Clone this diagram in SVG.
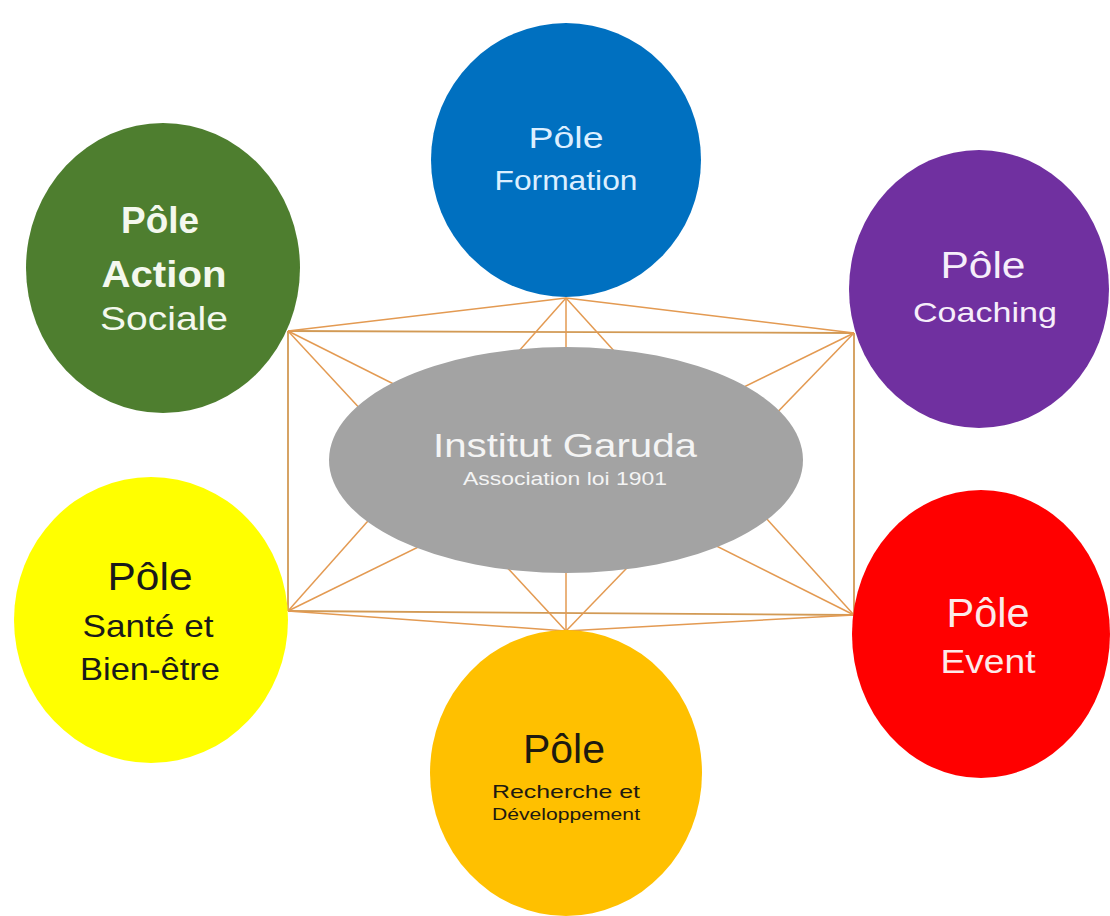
<svg xmlns="http://www.w3.org/2000/svg" width="1110" height="916" viewBox="0 0 1110 916">
<style>
  .t { font-family: "Liberation Sans", "DejaVu Sans", Arial, sans-serif; text-anchor: middle; }
  .ln { stroke: #E39A52; stroke-width: 1.5; fill: none; }
  .frame { stroke: #D29A55; stroke-width: 1.8; fill: none; }
</style>
<rect width="1110" height="916" fill="#FFFFFF"/>
<g id="connectors">
  <line class="frame" x1="288" y1="331" x2="854" y2="333"/>
  <line class="frame" x1="288" y1="611" x2="854" y2="615"/>
  <line class="frame" x1="288" y1="331" x2="288" y2="611"/>
  <line class="frame" x1="854" y1="333" x2="854" y2="615"/>
  <line class="ln" x1="566" y1="298" x2="288" y2="331"/>
  <line class="ln" x1="566" y1="298" x2="854" y2="333"/>
  <line class="ln" x1="566" y1="631" x2="288" y2="611"/>
  <line class="ln" x1="566" y1="631" x2="854" y2="615"/>
  <line class="ln" x1="566" y1="298" x2="566" y2="631"/>
  <line class="ln" x1="566" y1="298" x2="288" y2="611"/>
  <line class="ln" x1="566" y1="298" x2="854" y2="615"/>
  <line class="ln" x1="566" y1="631" x2="288" y2="331"/>
  <line class="ln" x1="566" y1="631" x2="854" y2="333"/>
  <line class="ln" x1="288" y1="331" x2="854" y2="615"/>
  <line class="ln" x1="854" y1="333" x2="288" y2="611"/>
</g>
<g id="institut-garuda">
  <ellipse cx="566" cy="460" rx="237" ry="113" fill="#A3A3A3"/>
  <text class="t" x="565" y="457" font-size="34" fill="#F4F4F4" textLength="264" lengthAdjust="spacingAndGlyphs">Institut Garuda</text>
  <text class="t" x="565" y="485" font-size="19" fill="#F4F4F4" textLength="204" lengthAdjust="spacingAndGlyphs">Association loi 1901</text>
</g>
<g id="pole-formation">
  <ellipse cx="566" cy="160" rx="135" ry="137" fill="#0070C0"/>
  <text class="t" x="566" y="148" font-size="30" fill="#DCEFFF" textLength="75" lengthAdjust="spacingAndGlyphs">Pôle</text>
  <text class="t" x="566" y="190" font-size="27" fill="#DCEFFF" textLength="143" lengthAdjust="spacingAndGlyphs">Formation</text>
</g>
<g id="pole-action-sociale">
  <ellipse cx="163" cy="268" rx="137" ry="145" fill="#4E7E2F"/>
  <text class="t" x="160" y="233" font-size="36" font-weight="bold" fill="#F4F8EE" textLength="78" lengthAdjust="spacingAndGlyphs">Pôle</text>
  <text class="t" x="164" y="287" font-size="36" font-weight="bold" fill="#F4F8EE" textLength="125" lengthAdjust="spacingAndGlyphs">Action</text>
  <text class="t" x="164" y="330" font-size="34" fill="#F4F8EE" textLength="128" lengthAdjust="spacingAndGlyphs">Sociale</text>
</g>
<g id="pole-coaching">
  <ellipse cx="979" cy="289" rx="130" ry="139" fill="#7030A0"/>
  <text class="t" x="983" y="278" font-size="37" fill="#F6EEFA" textLength="85" lengthAdjust="spacingAndGlyphs">Pôle</text>
  <text class="t" x="985" y="322" font-size="28" fill="#F6EEFA" textLength="144" lengthAdjust="spacingAndGlyphs">Coaching</text>
</g>
<g id="pole-sante">
  <ellipse cx="151" cy="620" rx="137" ry="143" fill="#FFFF00"/>
  <text class="t" x="150" y="590" font-size="38" fill="#1A1A1A" textLength="85" lengthAdjust="spacingAndGlyphs">Pôle</text>
  <text class="t" x="148" y="637" font-size="32" fill="#1A1A1A" textLength="131" lengthAdjust="spacingAndGlyphs">Santé et</text>
  <text class="t" x="150" y="680" font-size="32" fill="#1A1A1A" textLength="140" lengthAdjust="spacingAndGlyphs">Bien-être</text>
</g>
<g id="pole-event">
  <ellipse cx="981" cy="634" rx="129" ry="144" fill="#FF0000"/>
  <text class="t" x="988" y="627" font-size="40" fill="#FCEAEA" textLength="83" lengthAdjust="spacingAndGlyphs">Pôle</text>
  <text class="t" x="988" y="673" font-size="34" fill="#FCEAEA" textLength="95" lengthAdjust="spacingAndGlyphs">Event</text>
</g>
<g id="pole-recherche">
  <ellipse cx="566" cy="773" rx="136" ry="143" fill="#FFC000"/>
  <text class="t" x="564" y="763" font-size="40" fill="#1E1A10" textLength="82" lengthAdjust="spacingAndGlyphs">Pôle</text>
  <text class="t" x="566" y="798" font-size="19" fill="#1E1A10" textLength="148" lengthAdjust="spacingAndGlyphs">Recherche et</text>
  <text class="t" x="566" y="820" font-size="17" fill="#1E1A10" textLength="148" lengthAdjust="spacingAndGlyphs">Développement</text>
</g>
</svg>
